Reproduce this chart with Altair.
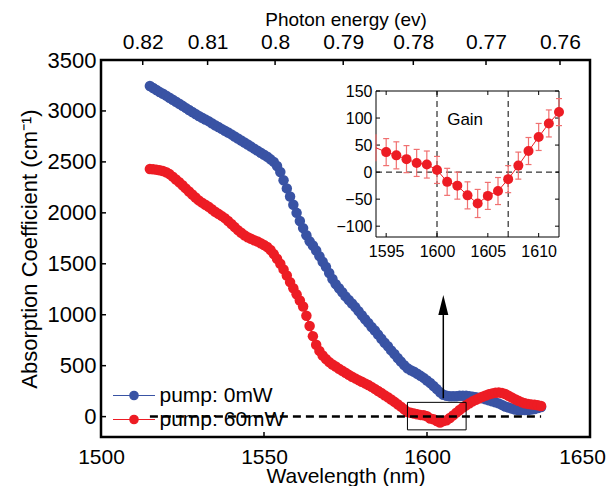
import altair as alt
import pandas as pd

FONT = "Liberation Sans"
BLUE = "#3953a4"
RED = "#ed1c24"
ERR = "#f07070"

# ---------------- data ----------------
wavelength_nm = list(range(1515, 1636))
pump_0mW = [
    3245, 3225, 3205, 3185, 3168, 3150, 3130, 3110, 3090, 3070,   # 1515-1524
    3050, 3030, 3010, 2990, 2970, 2950, 2933, 2916, 2900, 2880,   # 1525-1534
    2860, 2842, 2824, 2806, 2788, 2770, 2750, 2730, 2710, 2690,   # 1535-1544
    2670, 2650, 2630, 2610, 2590, 2570, 2550, 2525, 2500, 2460,   # 1545-1554
    2400, 2320, 2240, 2160, 2080, 2000, 1920, 1850, 1780, 1720,   # 1555-1564
    1680, 1630, 1575, 1520, 1470, 1410, 1350, 1300, 1260, 1220,   # 1565-1574
    1180, 1145, 1110, 1075, 1035, 995, 955, 920, 880, 845,        # 1575-1584
    805, 765, 725, 690, 650, 615, 575, 540, 505, 475,             # 1585-1594
    455, 440, 420, 400, 380, 355, 330, 300, 270, 240,             # 1595-1604
    215, 205, 200, 200, 200, 205, 205, 205, 200, 195,             # 1605-1614
    190, 185, 180, 170, 160, 150, 140, 130, 115, 100,             # 1615-1624
    90, 80, 70, 65, 65, 65, 65, 70, 75, 85,                       # 1625-1634
    95,                                                           # 1635
]
pump_60mW = [
    2430, 2428, 2424, 2418, 2410, 2398, 2380, 2355, 2328, 2300,   # 1515-1524
    2270, 2240, 2210, 2180, 2150, 2122, 2100, 2080, 2060, 2035,   # 1525-1534
    2010, 1990, 1970, 1948, 1920, 1890, 1860, 1830, 1805, 1780,   # 1535-1544
    1760, 1745, 1730, 1718, 1702, 1685, 1665, 1635, 1595, 1550,   # 1545-1554
    1500, 1445, 1385, 1320, 1260, 1200, 1140, 1080, 990, 890,     # 1555-1564
    790, 705, 645, 600, 565, 535, 512, 492, 470, 450,             # 1565-1574
    430, 410, 392, 375, 358, 342, 326, 310, 292, 272,             # 1575-1584
    252, 232, 210, 190, 168, 145, 122, 98, 72, 45,                # 1585-1594
    37, 31, 24, 17, 14, 4, -18, -25, -43, -58,                    # 1595-1604
    -44, -35, -13, 12, 39, 65, 90, 111, 132, 150,                 # 1605-1614
    166, 181, 195, 208, 220, 228, 234, 236, 232, 222,             # 1615-1624
    205, 188, 170, 155, 142, 132, 125, 120, 116, 112,             # 1625-1634
    105,                                                          # 1635
]
series_names = ["pump: 0mW", "pump: 60mW"]
series_colors = [BLUE, RED]

main_x_domain = [1500, 1650]
main_y_domain = [-200, 3500]
main_x_ticks = [1500, 1550, 1600, 1650]
main_y_ticks = [0, 500, 1000, 1500, 2000, 2500, 3000, 3500]

energy_tick_nm = [1512.8, 1532.7, 1553.4, 1574.3, 1595.8, 1618.1, 1640.8]
energy_tick_labels = ["0.82", "0.81", "0.8", "0.79", "0.78", "0.77", "0.76"]

zero_line_nm = [1515, 1635]
zoom_box_nm = [1594, 1612]
zoom_box_alpha = [-130, 140]
arrow_nm = [1605]
arrow_alpha = [180, 997]
arrowhead_alpha = [1095]

inset_nm = list(range(1594, 1613))
inset_alpha = [45, 37, 31, 24, 17, 14, 4, -18, -25, -43, -58, -44, -35, -13, 12, 39, 65, 90, 111]
inset_err = [25, 25, 25, 25, 25, 25, 25, 25, 25, 25, 26, 25, 25, 25, 25, 25, 25, 25, 25]
inset_x_domain = [1594, 1612]
inset_y_domain = [-120, 150]
inset_x_ticks = [1595, 1600, 1605, 1610]
inset_y_ticks = [-100, -50, 0, 50, 100, 150]
gain_edges_nm = [1600, 1607]
gain_text = ["Gain"]
gain_text_nm = [1601]
gain_text_alpha = [97]

# ---------------- layout ----------------
W, H = 489, 377
INSET_L, INSET_R, INSET_T, INSET_B = 275, 458, 31, 177

LEGEND_PATH = "M-2.5,0L2.5,0M0.5,0A0.5,0.5,0,1,1,-0.5,0A0.5,0.5,0,1,1,0.5,0Z"
ARROW_PATH = "M0,-1L0.5,1L-0.5,1Z"

color_expr = (f"datum.value === '{series_names[0]}' ? '{series_colors[0]}' : '{series_colors[1]}'")

legend = alt.Legend(
    title=None, orient="none", legendX=22.5, legendY=325,
    symbolType=LEGEND_PATH, symbolSize=282, symbolStrokeWidth=1.2,
    symbolFillColor={"expr": color_expr}, symbolStrokeColor={"expr": color_expr},
    symbolOpacity=1,
    labelFontSize=21, labelFont=FONT, labelColor="black", labelOffset=15,
    rowPadding=2, padding=0, labelLimit=300,
)

xs = alt.Scale(domain=main_x_domain, nice=False, zero=False)
ys = alt.Scale(domain=main_y_domain, nice=False, zero=False)
main_x_axis = alt.Axis(
    orient="bottom", values=main_x_ticks, format="d", title="Wavelength (nm)",
    labelFontSize=21, titleFontSize=21,
    titleX=W / 2, titleY=45, titleBaseline="alphabetic", labelPadding=9,
    labelOffset={"condition": {"test": f"datum.value == {main_x_ticks[-1]}", "value": -8}, "value": 0},
)
main_y_axis = alt.Axis(orient="left", values=main_y_ticks, format="d",
                       title="Absorption Coefficient (cm⁻¹)",
                       titleX=-72, titleY=H / 2, titleAngle=270, titleAlign="center",
                       titleBaseline="middle", labelPadding=5)


def MX(field):
    return alt.X(field, scale=xs, axis=main_x_axis)


def MY(field):
    return alt.Y(field, scale=ys, axis=main_y_axis)


n = len(wavelength_nm)
curves_df = pd.DataFrame({
    "nm": wavelength_nm + wavelength_nm,
    "alpha": pump_0mW + pump_60mW,
    "series": [series_names[0]] * n + [series_names[1]] * n,
})

curves = alt.Chart(curves_df).mark_line(
    strokeWidth=2, point=alt.OverlayMarkDef(filled=True, size=110, opacity=1)
).encode(
    x=MX("nm:Q"), y=MY("alpha:Q"),
    color=alt.Color("series:N", scale=alt.Scale(domain=series_names, range=series_colors), legend=legend),
)

zero_df = pd.DataFrame({"nm": [zero_line_nm[0]], "nm2": [zero_line_nm[1]], "alpha": [0]})
zero_rule = alt.Chart(zero_df).mark_rule(color="black", strokeWidth=2.5, strokeDash=[8, 5]).encode(
    x=MX("nm:Q"), x2="nm2:Q", y=MY("alpha:Q"))

box_df = pd.DataFrame({"nm": [zoom_box_nm[0]], "nm2": [zoom_box_nm[1]],
                       "alpha": [zoom_box_alpha[0]], "alpha2": [zoom_box_alpha[1]]})
box = alt.Chart(box_df).mark_rect(fillOpacity=0, stroke="black", strokeWidth=1).encode(
    x=MX("nm:Q"), x2="nm2:Q", y=MY("alpha:Q"), y2="alpha2:Q")

shaft_df = pd.DataFrame({"nm": arrow_nm, "alpha": [arrow_alpha[0]], "alpha2": [arrow_alpha[1]]})
shaft = alt.Chart(shaft_df).mark_rule(color="black", strokeWidth=1.5).encode(
    x=MX("nm:Q"), y=MY("alpha:Q"), y2="alpha2:Q")

head_df = pd.DataFrame({"nm": arrow_nm, "alpha": arrowhead_alpha})
head = alt.Chart(head_df).mark_point(shape=ARROW_PATH, size=400, filled=True, color="black",
                                     opacity=1, strokeWidth=0).encode(
    x=MX("nm:Q"), y=MY("alpha:Q"))

ytick_df = pd.DataFrame({"alpha": main_y_ticks})
ytick = alt.Chart(ytick_df).mark_rule(color="black", strokeWidth=1.5).encode(
    y=MY("alpha:Q"), x=alt.value(0), x2=alt.value(5))
xtick_df = pd.DataFrame({"nm": main_x_ticks})
xtick = alt.Chart(xtick_df).mark_rule(color="black", strokeWidth=1.5).encode(
    x=MX("nm:Q"), y=alt.value(H), y2=alt.value(H - 5))

main_layer = alt.layer(curves, zero_rule, box, shaft, head, ytick, xtick)

# ---------------- top energy axis ----------------
label_expr = ("[" + ",".join(f"'{s}'" for s in energy_tick_labels) + "][indexof(["
              + ",".join(repr(v) for v in energy_tick_nm) + "], datum.value)]")
energy_df = pd.DataFrame({"nm": energy_tick_nm})
energy_layer = alt.Chart(energy_df).mark_rule(color="black", strokeWidth=1.5).encode(
    x=alt.X("nm:Q", scale=alt.Scale(domain=main_x_domain, nice=False, zero=False),
            axis=alt.Axis(orient="top", values=energy_tick_nm, labelExpr=label_expr,
                          labelFontSize=21,
                          title="Photon energy (ev)", titleFontSize=19, titleX=W / 2, titleY=-34.6,
                          titleBaseline="alphabetic", labelPadding=11.2, labelBaseline="alphabetic")),
    y=alt.value(0), y2=alt.value(5))

# ---------------- inset ----------------
ixs = alt.Scale(domain=inset_x_domain, range=[INSET_L, INSET_R], nice=False, zero=False)
iys = alt.Scale(domain=inset_y_domain, range=[INSET_B, INSET_T], nice=False, zero=False)
inset_x_axis = alt.Axis(orient="bottom", offset=-(H - INSET_B), values=inset_x_ticks, format="d",
                        title=None, labelFontSize=16, labelPadding=6)
inset_y_axis = alt.Axis(orient="left", offset=-INSET_L, values=inset_y_ticks, format="d",
                        title=None, labelFontSize=16, labelPadding=4)


def IX(field):
    return alt.X(field, scale=ixs, axis=inset_x_axis)


def IY(field):
    return alt.Y(field, scale=iys, axis=inset_y_axis)


frame_df = pd.DataFrame({"nm": [inset_x_domain[0]], "nm2": [inset_x_domain[1]],
                         "v": [inset_y_domain[0]], "v2": [inset_y_domain[1]]})
frame = alt.Chart(frame_df).mark_rect(fillOpacity=0, stroke="black", strokeWidth=1).encode(
    x=IX("nm:Q"), x2="nm2:Q", y=IY("v:Q"), y2="v2:Q")

gain_df = pd.DataFrame({"nm": gain_edges_nm, "v": [inset_y_domain[0]] * 2, "v2": [inset_y_domain[1]] * 2})
gain_rules = alt.Chart(gain_df).mark_rule(color="black", strokeWidth=1, strokeDash=[6, 4]).encode(
    x=IX("nm:Q"), y=IY("v:Q"), y2="v2:Q")

izero_df = pd.DataFrame({"nm": [inset_x_domain[0]], "nm2": [inset_x_domain[1]], "v": [0]})
izero = alt.Chart(izero_df).mark_rule(color="black", strokeWidth=1, strokeDash=[6, 4]).encode(
    x=IX("nm:Q"), x2="nm2:Q", y=IY("v:Q"))

ixt_df = pd.DataFrame({"nm": inset_x_ticks})
iyt_df = pd.DataFrame({"v": inset_y_ticks})
ixt_bottom = alt.Chart(ixt_df).mark_rule(color="black", strokeWidth=1).encode(
    x=IX("nm:Q"), y=alt.value(INSET_B), y2=alt.value(INSET_B - 4))
ixt_top = alt.Chart(ixt_df).mark_rule(color="black", strokeWidth=1).encode(
    x=IX("nm:Q"), y=alt.value(INSET_T), y2=alt.value(INSET_T + 4))
iyt_left = alt.Chart(iyt_df).mark_rule(color="black", strokeWidth=1).encode(
    y=IY("v:Q"), x=alt.value(INSET_L), x2=alt.value(INSET_L + 4))
iyt_right = alt.Chart(iyt_df).mark_rule(color="black", strokeWidth=1).encode(
    y=IY("v:Q"), x=alt.value(INSET_R), x2=alt.value(INSET_R - 4))

inset_df = pd.DataFrame({"nm": inset_nm, "v": inset_alpha, "e": inset_err})
first_full = f"datum.nm >= {inset_x_ticks[0]}"

errbars = alt.Chart(inset_df).transform_calculate(
    lo="datum.v - datum.e", hi="datum.v + datum.e"
).mark_rule(color=ERR, strokeWidth=1.2).encode(
    x=IX("nm:Q"), y=IY("lo:Q"), y2="hi:Q")

caps = alt.Chart(inset_df).transform_filter(first_full).transform_calculate(
    lo="datum.v - datum.e", hi="datum.v + datum.e"
).transform_fold(["lo", "hi"], as_=["k", "val"]).mark_tick(
    orient="horizontal", size=6, thickness=1.2, color=ERR, opacity=1
).encode(x=IX("nm:Q"), y=IY("val:Q"))

iline = alt.Chart(inset_df).mark_line(color=RED, strokeWidth=1).encode(
    x=IX("nm:Q"), y=IY("v:Q"))

ipoints = alt.Chart(inset_df).transform_filter(first_full).mark_circle(
    color=RED, size=100, opacity=1).encode(x=IX("nm:Q"), y=IY("v:Q"))

gtext_df = pd.DataFrame({"nm": gain_text_nm, "v": gain_text_alpha, "t": gain_text})
gtext = alt.Chart(gtext_df).mark_text(align="left", baseline="middle", fontSize=17, font=FONT,
                                      color="black").encode(
    x=IX("nm:Q"), y=IY("v:Q"), text="t:N")

inset_layer = alt.layer(frame, gain_rules, izero, ixt_bottom, ixt_top, iyt_left, iyt_right,
                        errbars, caps, iline, ipoints, gtext)

chart = alt.layer(main_layer, energy_layer, inset_layer).resolve_scale(
    x="independent", y="independent"
).properties(
    width=W, height=H,
    autosize=alt.AutoSizeParams(type="none"),
    padding={"left": 93, "top": 52, "right": 16, "bottom": 49},
    background="white",
).configure(font=FONT).configure_view(
    stroke="black", strokeWidth=2.5
).configure_axis(
    grid=False, domain=False, ticks=False, tickSize=0,
    labelFont=FONT, labelFontSize=22, labelColor="black",
    titleFont=FONT, titleFontSize=22, titleFontWeight="normal", titleColor="black",
    labelFlush=False, labelOverlap=False,
)

chart.save("out.html", embed_options={"renderer": "svg", "actions": False})
